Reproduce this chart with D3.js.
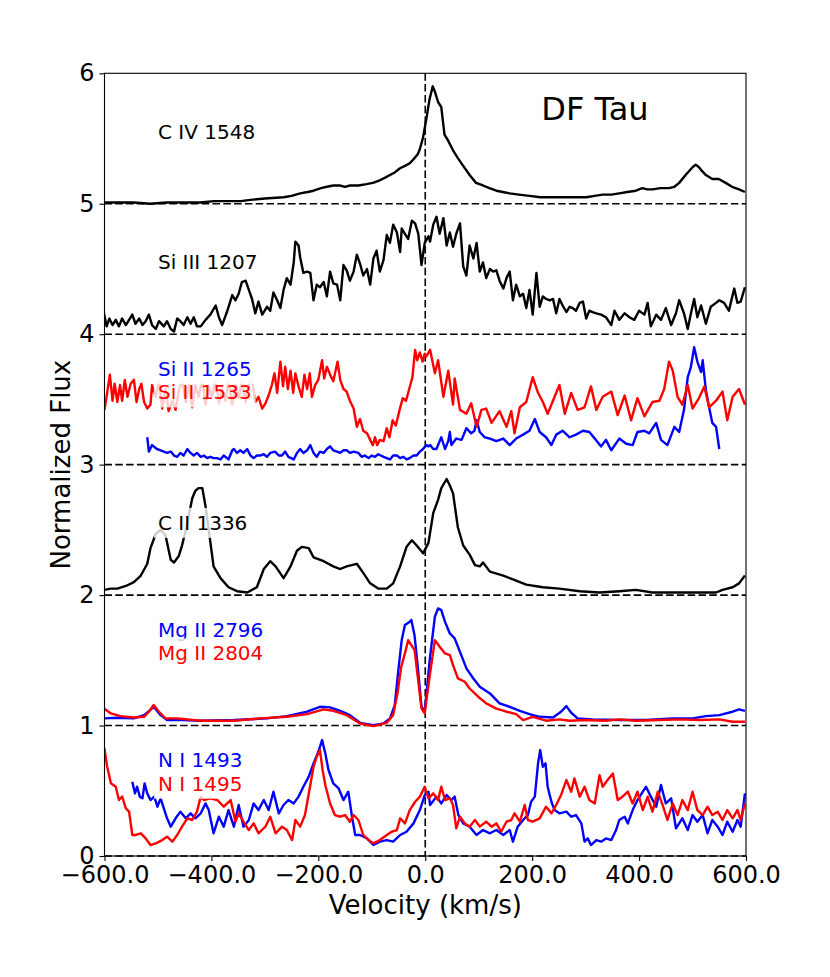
<!DOCTYPE html>
<html><head><meta charset="utf-8">
<script src="https://cdn.jsdelivr.net/npm/d3@7"></script>
<style>body{margin:0;background:#fff}svg{display:block}</style>
</head><body>
<svg id="chart" width="830" height="977"></svg>
<script>
// ---------- data (velocity km/s, normalized flux incl. offset) ----------
const xTicks = [-600,-400,-200,0,200,400,600];
const yTicks = [0,1,2,3,4,5,6];
const baselines = [0,1,2,3,4,5];

const civ1548 = [[-601,5.01],[-570,5.01],[-545,5.01],[-515,5.00],[-483,5.01],[-450,5.01],[-421,5.01],[-395,5.02],[-371,5.02],[-345,5.02],[-327,5.03],[-300,5.04],[-265,5.05],[-250,5.06],[-234,5.08],[-220,5.09],[-209,5.10],[-195,5.12],[-184,5.13],[-172,5.14],[-160,5.14],[-150,5.13],[-141,5.14],[-125,5.14],[-110,5.15],[-98,5.16],[-85,5.18],[-75,5.20],[-66,5.22],[-57,5.24],[-48,5.27],[-38,5.29],[-29,5.31],[-20,5.35],[-14,5.38],[-10,5.42],[-4,5.51],[2,5.65],[8,5.80],[14,5.90],[18,5.86],[24,5.78],[30,5.74],[36,5.53],[42,5.49],[52,5.41],[61,5.35],[71,5.29],[83,5.22],[95,5.16],[108,5.14],[120,5.12],[133,5.10],[145,5.09],[158,5.08],[175,5.07],[195,5.06],[215,5.05],[239,5.05],[255,5.05],[270,5.05],[285,5.05],[301,5.05],[317,5.06],[332,5.07],[348,5.07],[363,5.08],[378,5.09],[394,5.10],[406,5.12],[415,5.11],[425,5.11],[440,5.12],[456,5.12],[466,5.13],[475,5.16],[487,5.22],[500,5.28],[506,5.30],[512,5.28],[518,5.25],[525,5.22],[537,5.19],[549,5.19],[562,5.16],[574,5.13],[587,5.11],[598,5.09]];

const siiii1207 = [[-601,4.16],[-596,4.06],[-591,4.12],[-585,4.07],[-579,4.11],[-573,4.06],[-567,4.12],[-560,4.07],[-554,4.11],[-548,4.15],[-542,4.08],[-535,4.12],[-529,4.07],[-523,4.10],[-517,4.15],[-511,4.07],[-504,4.04],[-498,4.10],[-489,4.06],[-483,4.10],[-476,4.04],[-470,4.02],[-464,4.12],[-458,4.10],[-452,4.07],[-445,4.13],[-439,4.08],[-433,4.13],[-427,4.06],[-420,4.06],[-411,4.11],[-402,4.15],[-392,4.22],[-386,4.13],[-380,4.07],[-371,4.17],[-361,4.30],[-355,4.26],[-349,4.31],[-343,4.40],[-336,4.41],[-330,4.34],[-324,4.27],[-318,4.16],[-312,4.25],[-305,4.15],[-296,4.21],[-290,4.18],[-284,4.32],[-277,4.26],[-271,4.20],[-265,4.34],[-259,4.43],[-252,4.38],[-246,4.55],[-243,4.71],[-237,4.68],[-234,4.59],[-228,4.47],[-221,4.48],[-215,4.47],[-209,4.26],[-203,4.38],[-197,4.36],[-190,4.40],[-184,4.29],[-178,4.48],[-172,4.39],[-165,4.38],[-159,4.26],[-153,4.53],[-147,4.49],[-141,4.41],[-134,4.48],[-128,4.61],[-122,4.54],[-116,4.45],[-109,4.50],[-103,4.38],[-97,4.58],[-91,4.64],[-85,4.48],[-78,4.57],[-72,4.76],[-66,4.70],[-60,4.84],[-53,4.78],[-47,4.63],[-44,4.81],[-38,4.77],[-32,4.73],[-25,4.87],[-19,4.85],[-13,4.77],[-7,4.53],[-1,4.70],[6,4.75],[9,4.71],[15,4.84],[21,4.90],[27,4.77],[34,4.89],[40,4.68],[46,4.78],[52,4.67],[58,4.77],[65,4.85],[71,4.52],[77,4.45],[83,4.68],[90,4.58],[96,4.70],[102,4.48],[108,4.55],[114,4.43],[121,4.50],[127,4.48],[133,4.49],[139,4.41],[146,4.35],[152,4.43],[158,4.48],[164,4.26],[170,4.38],[177,4.29],[183,4.31],[189,4.20],[195,4.34],[201,4.15],[208,4.47],[214,4.21],[220,4.29],[226,4.27],[233,4.26],[239,4.27],[245,4.16],[251,4.27],[257,4.22],[264,4.17],[270,4.21],[276,4.20],[282,4.18],[289,4.24],[295,4.25],[301,4.12],[307,4.18],[313,4.17],[320,4.16],[329,4.15],[338,4.13],[348,4.07],[354,4.18],[363,4.11],[373,4.16],[382,4.13],[391,4.11],[400,4.18],[410,4.15],[416,4.24],[422,4.06],[432,4.15],[441,4.11],[450,4.20],[460,4.07],[469,4.16],[475,4.26],[484,4.16],[491,4.04],[497,4.16],[503,4.27],[509,4.13],[516,4.22],[525,4.08],[534,4.21],[544,4.24],[550,4.26],[559,4.24],[568,4.18],[578,4.35],[584,4.24],[590,4.25],[598,4.36]];

const siii1265 = [[-520,3.21],[-517,3.10],[-511,3.15],[-502,3.12],[-495,3.11],[-489,3.10],[-483,3.09],[-476,3.10],[-470,3.07],[-464,3.06],[-458,3.09],[-452,3.07],[-445,3.12],[-439,3.09],[-433,3.07],[-427,3.09],[-420,3.06],[-414,3.07],[-408,3.05],[-402,3.06],[-396,3.05],[-390,3.05],[-383,3.04],[-377,3.07],[-368,3.04],[-361,3.11],[-358,3.12],[-352,3.09],[-346,3.11],[-340,3.09],[-333,3.12],[-327,3.07],[-321,3.05],[-315,3.07],[-309,3.07],[-302,3.08],[-296,3.06],[-290,3.09],[-281,3.10],[-274,3.07],[-268,3.07],[-262,3.10],[-256,3.06],[-246,3.04],[-240,3.09],[-234,3.12],[-228,3.09],[-221,3.11],[-215,3.15],[-209,3.09],[-203,3.06],[-197,3.10],[-190,3.09],[-184,3.12],[-178,3.14],[-172,3.11],[-165,3.10],[-159,3.09],[-153,3.11],[-147,3.11],[-141,3.09],[-134,3.10],[-125,3.09],[-119,3.06],[-113,3.07],[-106,3.05],[-100,3.07],[-94,3.06],[-88,3.08],[-78,3.06],[-72,3.05],[-66,3.04],[-60,3.07],[-53,3.07],[-47,3.05],[-41,3.06],[-35,3.04],[-29,3.05],[-22,3.07],[-16,3.07],[-10,3.10],[-4,3.12],[2,3.15],[6,3.14],[9,3.15],[15,3.12],[21,3.12],[27,3.18],[30,3.21],[37,3.12],[43,3.18],[46,3.25],[49,3.15],[58,3.20],[68,3.19],[77,3.28],[86,3.24],[92,3.26],[96,3.34],[102,3.25],[111,3.21],[121,3.20],[133,3.18],[146,3.20],[158,3.15],[170,3.20],[183,3.23],[195,3.26],[205,3.35],[214,3.25],[226,3.21],[236,3.15],[245,3.23],[257,3.26],[270,3.21],[282,3.23],[295,3.26],[307,3.25],[317,3.20],[329,3.14],[338,3.19],[348,3.11],[363,3.20],[376,3.16],[388,3.15],[397,3.25],[410,3.26],[419,3.24],[432,3.32],[441,3.19],[453,3.15],[466,3.29],[475,3.25],[484,3.42],[491,3.67],[497,3.75],[503,3.90],[509,3.79],[516,3.71],[519,3.80],[525,3.57],[531,3.44],[537,3.32],[544,3.29],[550,3.12]];

const siii1533 = [[-600,3.42],[-595,3.55],[-590,3.69],[-585,3.49],[-581,3.62],[-576,3.48],[-571,3.61],[-567,3.49],[-562,3.65],[-557,3.52],[-551,3.62],[-545,3.65],[-540,3.48],[-535,3.58],[-531,3.62],[-526,3.48],[-520,3.43],[-514,3.46],[-511,3.61],[-504,3.52],[-498,3.65],[-492,3.43],[-486,3.58],[-480,3.41],[-473,3.49],[-467,3.42],[-461,3.57],[-455,3.65],[-448,3.48],[-442,3.62],[-436,3.44],[-430,3.61],[-424,3.52],[-417,3.65],[-411,3.46],[-405,3.60],[-399,3.52],[-392,3.65],[-386,3.47],[-380,3.58],[-374,3.49],[-368,3.65],[-361,3.46],[-355,3.61],[-349,3.51],[-343,3.64],[-336,3.48],[-330,3.62],[-324,3.65],[-318,3.48],[-312,3.52],[-305,3.43],[-299,3.47],[-293,3.53],[-287,3.61],[-282,3.70],[-277,3.55],[-271,3.79],[-266,3.60],[-262,3.75],[-257,3.58],[-252,3.72],[-247,3.55],[-243,3.70],[-237,3.60],[-231,3.52],[-226,3.69],[-221,3.58],[-216,3.70],[-212,3.52],[-206,3.61],[-200,3.65],[-193,3.80],[-189,3.66],[-184,3.75],[-178,3.69],[-172,3.64],[-164,3.79],[-159,3.65],[-153,3.58],[-147,3.56],[-141,3.49],[-134,3.43],[-128,3.29],[-122,3.35],[-116,3.26],[-109,3.24],[-103,3.19],[-98,3.15],[-94,3.21],[-90,3.15],[-85,3.19],[-78,3.18],[-72,3.28],[-67,3.21],[-61,3.34],[-55,3.30],[-48,3.42],[-42,3.51],[-36,3.49],[-30,3.58],[-24,3.67],[-19,3.88],[-15,3.80],[-10,3.86],[-5,3.79],[-1,3.85],[2,3.83],[9,3.88],[18,3.70],[24,3.80],[34,3.52],[43,3.72],[52,3.46],[55,3.66],[65,3.42],[77,3.39],[86,3.47],[96,3.29],[105,3.42],[114,3.43],[124,3.32],[139,3.41],[152,3.29],[161,3.41],[167,3.24],[177,3.44],[189,3.48],[201,3.67],[211,3.55],[220,3.48],[229,3.39],[242,3.52],[251,3.61],[261,3.39],[273,3.55],[285,3.42],[298,3.44],[310,3.60],[320,3.42],[332,3.52],[348,3.56],[360,3.38],[373,3.53],[385,3.34],[397,3.51],[410,3.37],[425,3.48],[438,3.49],[447,3.58],[456,3.79],[463,3.72],[472,3.52],[481,3.46],[491,3.61],[500,3.43],[512,3.51],[522,3.60],[531,3.44],[544,3.49],[556,3.56],[565,3.34],[575,3.52],[587,3.58],[598,3.46]];

const cii1336 = [[-601,2.04],[-588,2.05],[-576,2.05],[-560,2.07],[-545,2.10],[-532,2.15],[-520,2.24],[-514,2.36],[-504,2.47],[-495,2.50],[-486,2.46],[-476,2.27],[-470,2.25],[-461,2.30],[-455,2.38],[-445,2.55],[-436,2.74],[-430,2.80],[-424,2.82],[-417,2.82],[-411,2.68],[-405,2.50],[-396,2.22],[-383,2.13],[-368,2.06],[-352,2.03],[-333,2.02],[-315,2.06],[-302,2.20],[-290,2.26],[-280,2.22],[-265,2.13],[-252,2.22],[-240,2.34],[-231,2.37],[-218,2.36],[-209,2.29],[-190,2.26],[-172,2.22],[-159,2.20],[-147,2.22],[-128,2.24],[-116,2.17],[-103,2.09],[-88,2.05],[-72,2.05],[-60,2.09],[-47,2.22],[-35,2.37],[-25,2.42],[-16,2.38],[-4,2.32],[6,2.40],[15,2.63],[24,2.73],[30,2.82],[40,2.89],[46,2.84],[52,2.78],[61,2.52],[71,2.38],[83,2.31],[93,2.23],[102,2.22],[108,2.25],[121,2.18],[146,2.15],[164,2.12],[189,2.08],[220,2.06],[251,2.05],[289,2.03],[326,2.02],[363,2.03],[394,2.04],[425,2.02],[456,2.02],[487,2.02],[519,2.02],[544,2.02],[556,2.04],[575,2.06],[587,2.09],[598,2.15]];

const mgii2796 = [[-601,1.055],[-576,1.06],[-545,1.055],[-526,1.08],[-514,1.12],[-508,1.144],[-495,1.08],[-483,1.042],[-452,1.042],[-420,1.037],[-358,1.042],[-296,1.055],[-259,1.072],[-221,1.106],[-197,1.144],[-178,1.139],[-159,1.113],[-141,1.08],[-122,1.021],[-97,1.003],[-78,1.016],[-66,1.055],[-57,1.157],[-51,1.40],[-44,1.655],[-38,1.77],[-29,1.795],[-26,1.81],[-20,1.69],[-14,1.45],[-7,1.144],[-1,1.106],[9,1.527],[18,1.834],[24,1.898],[30,1.885],[37,1.795],[46,1.706],[55,1.668],[65,1.565],[77,1.438],[90,1.361],[102,1.297],[121,1.246],[139,1.17],[158,1.144],[177,1.113],[195,1.088],[214,1.067],[239,1.062],[254,1.106],[264,1.149],[273,1.098],[285,1.055],[313,1.047],[363,1.042],[413,1.042],[463,1.055],[500,1.055],[525,1.072],[550,1.08],[575,1.106],[587,1.124],[598,1.113]];

const mgii2804 = [[-601,1.13],[-588,1.093],[-570,1.072],[-545,1.062],[-526,1.067],[-517,1.106],[-508,1.157],[-498,1.106],[-486,1.055],[-464,1.055],[-420,1.037],[-358,1.037],[-308,1.055],[-259,1.067],[-221,1.088],[-190,1.124],[-172,1.113],[-147,1.08],[-122,1.016],[-97,0.996],[-72,1.021],[-60,1.08],[-52,1.246],[-45,1.45],[-38,1.553],[-32,1.655],[-26,1.617],[-20,1.578],[-14,1.374],[-7,1.13],[-1,1.093],[9,1.40],[18,1.655],[27,1.604],[37,1.553],[46,1.54],[52,1.463],[61,1.361],[74,1.336],[83,1.284],[99,1.221],[114,1.17],[133,1.13],[152,1.106],[170,1.088],[183,1.042],[201,1.067],[226,1.037],[251,1.047],[270,1.037],[301,1.042],[338,1.037],[363,1.047],[394,1.037],[438,1.042],[475,1.047],[512,1.042],[550,1.047],[575,1.029],[598,1.029]];

const ni1493 = [[-548,0.569],[-543,0.48],[-539,0.531],[-534,0.455],[-529,0.442],[-525,0.557],[-520,0.48],[-514,0.429],[-507,0.455],[-501,0.378],[-495,0.442],[-489,0.365],[-483,0.289],[-476,0.225],[-467,0.289],[-458,0.34],[-448,0.289],[-439,0.327],[-430,0.289],[-420,0.327],[-411,0.403],[-405,0.352],[-396,0.174],[-386,0.301],[-377,0.225],[-368,0.352],[-358,0.225],[-349,0.391],[-340,0.225],[-330,0.276],[-321,0.403],[-312,0.352],[-302,0.429],[-293,0.352],[-284,0.493],[-274,0.327],[-265,0.391],[-256,0.429],[-246,0.403],[-237,0.455],[-228,0.531],[-218,0.608],[-209,0.71],[-200,0.799],[-193,0.889],[-187,0.787],[-181,0.659],[-172,0.557],[-162,0.518],[-153,0.429],[-144,0.493],[-137,0.301],[-131,0.161],[-122,0.161],[-109,0.135],[-97,0.084],[-85,0.11],[-72,0.122],[-60,0.11],[-47,0.161],[-35,0.186],[-22,0.25],[-10,0.352],[-1,0.467],[6,0.493],[9,0.391],[21,0.455],[30,0.403],[40,0.467],[49,0.429],[55,0.455],[62,0.314],[71,0.25],[83,0.225],[96,0.161],[108,0.199],[121,0.174],[133,0.199],[146,0.161],[158,0.199],[164,0.11],[173,0.225],[183,0.276],[192,0.314],[198,0.416],[205,0.455],[211,0.71],[215,0.812],[220,0.684],[225,0.71],[229,0.531],[236,0.416],[242,0.352],[251,0.327],[264,0.34],[273,0.301],[282,0.314],[292,0.25],[298,0.11],[304,0.135],[310,0.084],[320,0.122],[329,0.11],[338,0.135],[348,0.122],[357,0.199],[363,0.276],[373,0.301],[379,0.25],[388,0.352],[397,0.429],[407,0.493],[413,0.531],[422,0.455],[432,0.378],[441,0.544],[450,0.403],[460,0.442],[469,0.212],[481,0.289],[491,0.199],[500,0.314],[509,0.263],[519,0.314],[528,0.174],[537,0.276],[547,0.225],[556,0.161],[565,0.263],[575,0.186],[584,0.276],[590,0.225],[598,0.48]];

const ni1495 = [[-600,0.825],[-595,0.684],[-588,0.557],[-579,0.531],[-573,0.429],[-567,0.455],[-560,0.365],[-554,0.34],[-548,0.161],[-542,0.161],[-532,0.174],[-523,0.135],[-514,0.084],[-504,0.097],[-492,0.122],[-483,0.148],[-473,0.11],[-464,0.161],[-455,0.225],[-445,0.289],[-436,0.276],[-427,0.34],[-420,0.455],[-414,0.429],[-402,0.442],[-389,0.429],[-377,0.378],[-364,0.429],[-355,0.263],[-349,0.327],[-340,0.263],[-330,0.199],[-321,0.25],[-312,0.174],[-299,0.225],[-290,0.301],[-280,0.174],[-268,0.225],[-259,0.199],[-249,0.122],[-243,0.276],[-234,0.225],[-225,0.314],[-215,0.544],[-209,0.684],[-203,0.761],[-197,0.812],[-192,0.659],[-187,0.544],[-178,0.403],[-169,0.314],[-159,0.301],[-150,0.314],[-141,0.263],[-134,0.314],[-125,0.276],[-116,0.161],[-106,0.122],[-97,0.097],[-85,0.122],[-72,0.161],[-63,0.186],[-53,0.199],[-47,0.289],[-38,0.25],[-29,0.352],[-19,0.416],[-10,0.455],[-1,0.531],[6,0.442],[15,0.48],[24,0.429],[30,0.531],[37,0.429],[46,0.442],[52,0.391],[58,0.212],[65,0.301],[74,0.25],[83,0.225],[93,0.276],[102,0.225],[114,0.263],[124,0.225],[133,0.25],[142,0.186],[152,0.263],[161,0.276],[167,0.327],[177,0.263],[186,0.391],[192,0.276],[201,0.263],[214,0.289],[226,0.378],[236,0.327],[245,0.391],[254,0.467],[264,0.582],[273,0.493],[279,0.595],[289,0.455],[298,0.531],[307,0.429],[317,0.403],[326,0.62],[332,0.531],[341,0.582],[351,0.633],[360,0.429],[369,0.455],[379,0.493],[388,0.403],[397,0.493],[407,0.352],[416,0.455],[425,0.34],[435,0.493],[444,0.391],[453,0.276],[463,0.403],[472,0.314],[481,0.429],[491,0.352],[500,0.493],[509,0.352],[519,0.314],[528,0.378],[537,0.314],[547,0.34],[556,0.276],[565,0.352],[575,0.289],[584,0.352],[590,0.276],[598,0.403]];

const series = [
  {name:"C IV 1548", data:civ1548, color:"#000000"},
  {name:"Si III 1207", data:siiii1207, color:"#000000"},
  {name:"Si II 1265", data:siii1265, color:"#0000ff"},
  {name:"Si II 1533", data:siii1533, color:"#ff0000"},
  {name:"C II 1336", data:cii1336, color:"#000000"},
  {name:"Mg II 2796", data:mgii2796, color:"#0000ff"},
  {name:"Mg II 2804", data:mgii2804, color:"#ff0000"},
  {name:"N I 1493", data:ni1493, color:"#0000ff"},
  {name:"N I 1495", data:ni1495, color:"#ff0000"}
];
const labelPos = [[-500,5.5],[-500,4.5],[-500,3.68],[-500,3.5],[-500,2.5],[-500,1.68],[-500,1.5],[-500,0.68],[-500,0.5]];
const titleText = "DF Tau", titlePos = [217,5.64];

// ---------- drawing ----------
const svg = d3.select("#chart");
const L=104.5, R=746, T=73.3, B=856;
const x = d3.scaleLinear().domain([-600,600]).range([L,R]);
const y = d3.scaleLinear().domain([0,6]).range([B,T]);
const font = "DejaVu Sans, sans-serif";

// axes
const xa = svg.append("g").attr("transform",`translate(0,${B})`)
  .call(d3.axisBottom(x).tickValues(xTicks).tickFormat(d3.format(".1f")).tickSize(5).tickPadding(5));
const ya = svg.append("g").attr("transform",`translate(${L},0)`)
  .call(d3.axisLeft(y).tickValues(yTicks).tickFormat(d3.format("d")).tickSize(5).tickPadding(5));
[xa,ya].forEach(a=>{
  a.select(".domain").remove();
  a.selectAll("line").attr("stroke","#000").attr("stroke-width",1.1);
  a.selectAll("text").attr("font-family",font).attr("font-size",24).attr("fill","#000");
});

// dashed reference lines
const dash = "7.5,3.3";
svg.append("g").selectAll("line").data(baselines).join("line")
  .attr("x1",L).attr("x2",R).attr("y1",d=>y(d)).attr("y2",d=>y(d))
  .attr("stroke","#000").attr("stroke-width",1.6).attr("stroke-dasharray",dash);
svg.append("line").attr("x1",x(0)).attr("x2",x(0)).attr("y1",T).attr("y2",B)
  .attr("stroke","#000").attr("stroke-width",1.6).attr("stroke-dasharray",dash);

// curves
const line = d3.line().x(d=>x(d[0])).y(d=>y(d[1]));
svg.append("clipPath").attr("id","clip").append("rect")
  .attr("x",L).attr("y",T).attr("width",R-L).attr("height",B-T);
svg.append("g").attr("clip-path","url(#clip)").selectAll("path").data(series).join("path")
  .attr("d",d=>line(d.data)).attr("fill","none").attr("stroke",d=>d.color)
  .attr("stroke-width",2.4).attr("stroke-linejoin","round");

// frame
svg.append("rect").attr("x",L).attr("y",T).attr("width",R-L).attr("height",B-T)
  .attr("fill","none").attr("stroke","#000").attr("stroke-width",1.1);

// labels with translucent white boxes
const lg = svg.append("g");
series.forEach((s,i)=>{
  const g = lg.append("g");
  const t = g.append("text").attr("x",x(labelPos[i][0])).attr("y",y(labelPos[i][1]))
    .attr("font-family",font).attr("font-size",20).attr("fill",s.color).text(s.name);
  const bb = t.node().getBBox();
  g.insert("rect","text").attr("x",bb.x-4).attr("y",bb.y-3).attr("width",bb.width+8).attr("height",bb.height+6)
    .attr("fill","#fff").attr("fill-opacity",0.8);
});

svg.append("text").attr("x",x(titlePos[0])).attr("y",y(titlePos[1]))
  .attr("font-family",font).attr("font-size",32).attr("fill","#000").text(titleText);

// axis titles
svg.append("text").attr("x",(L+R)/2).attr("y",914).attr("text-anchor","middle")
  .attr("font-family",font).attr("font-size",26).text("Velocity (km/s)");
svg.append("text").attr("transform",`translate(70,${(T+B)/2}) rotate(-90)`).attr("text-anchor","middle")
  .attr("font-family",font).attr("font-size",26).text("Normalized Flux");
</script>
</body></html>
